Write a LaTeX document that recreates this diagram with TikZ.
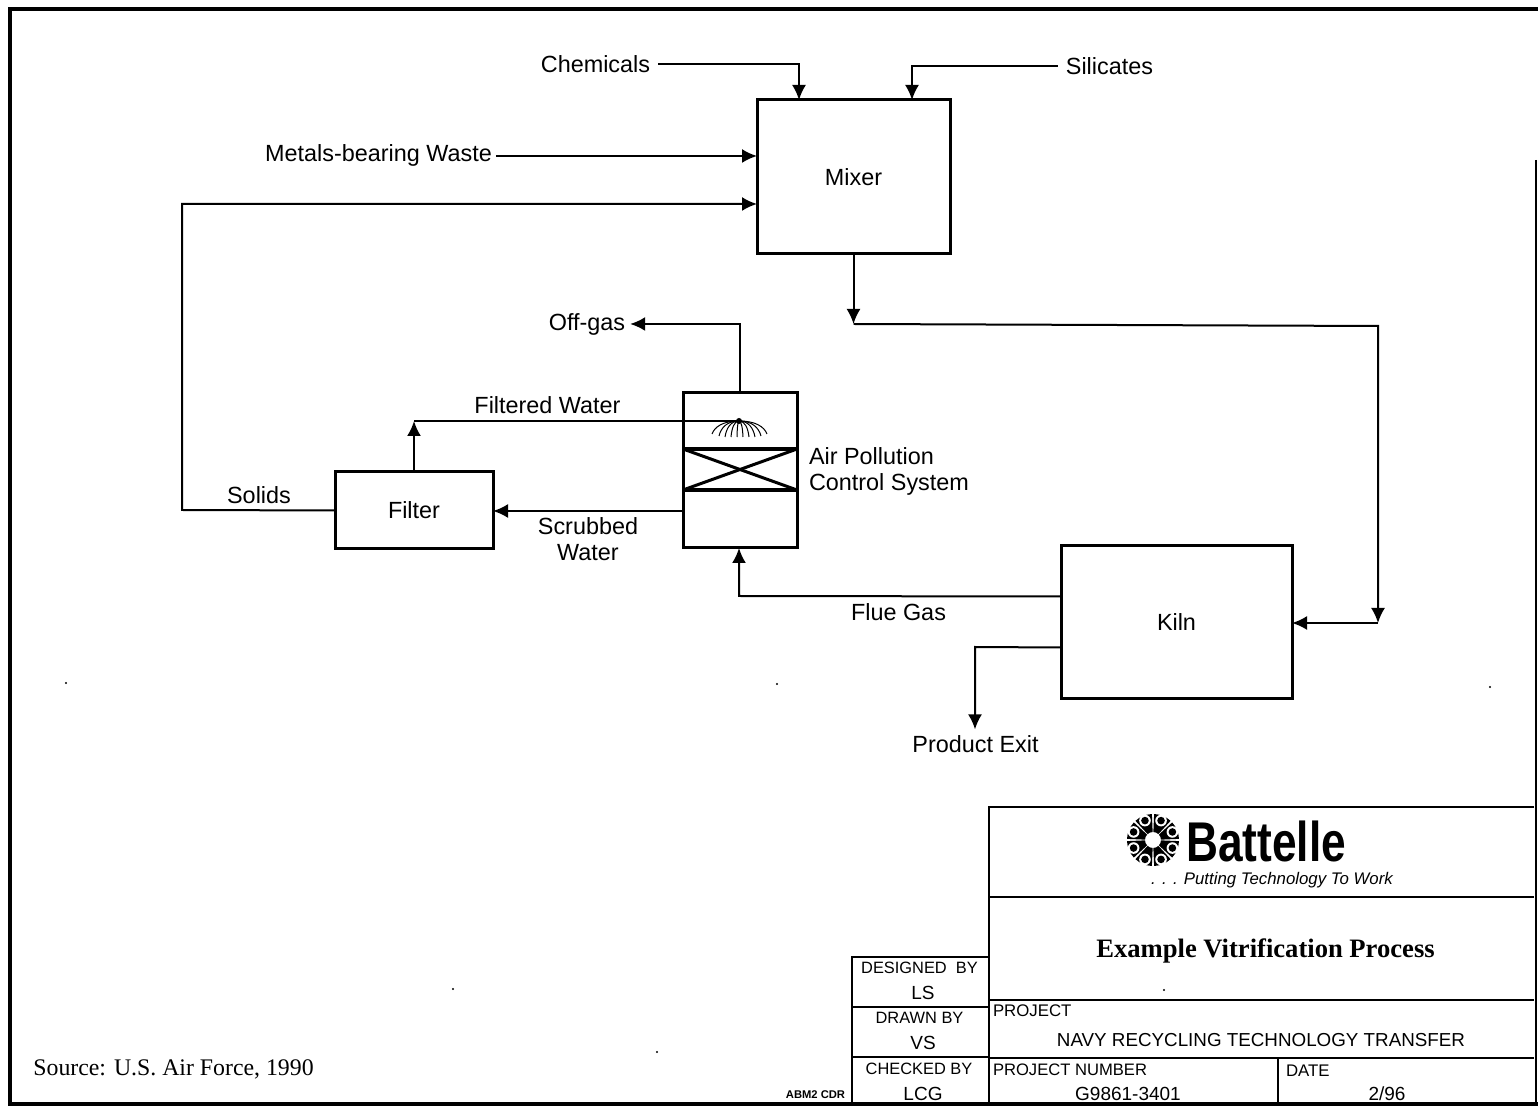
\documentclass[tikz,border=0pt]{standalone}
\usepackage{fontspec}
\setmainfont{Liberation Sans}
\newfontfamily\timesf{Liberation Serif}
\usetikzlibrary{arrows.meta,calc}
\tikzset{
  x=0.5pt,y=-0.5pt,
  conn/.style={line width=1pt},
  arr/.style={conn,-{Latex[length=7.5pt,width=7pt]}},
  pbox/.style={draw,line width=1.5pt,inner sep=0,outer sep=0,font=\fontsize{11.7}{14}\selectfont},
  lab/.style={inner sep=0,outer sep=0,font=\fontsize{11.7}{13.2}\selectfont},
  rule/.style={line width=1.2pt},
  frameline/.style={line width=1.8pt},
  cell/.style={inner sep=0,outer sep=0,font=\fontsize{8.4}{10}\selectfont},
  small/.style={inner sep=0,outer sep=0,font=\fontsize{8.2}{10}\selectfont},
  value/.style={inner sep=0,outer sep=0,font=\fontsize{9.5}{11}\selectfont},
  speck/.style={fill,circle,inner sep=0,minimum size=1.2pt},
}
\begin{document}
\begin{tikzpicture}
\useasboundingbox (0,0) rectangle (1538,1106);
% frame
\draw[frameline] (1538,9) -- (10,9) -- (10,1104) -- (1538,1104);
\draw[line width=.8pt] (1536,160) -- (1536,807);
% process boxes
\node[pbox,minimum width=96.5pt,minimum height=77pt] (mixer) at (853.5,177) {Mixer};
\node[pbox,minimum width=115.5pt,minimum height=76.5pt] (kiln) at (1176.5,622) {Kiln};
\node[pbox,minimum width=79pt,minimum height=38.5pt] (filter) at (414,510.5) {Filter};
\node[draw,line width=1.5pt,inner sep=0,outer sep=0,minimum width=57pt,minimum height=77.5pt] (apc) at (740,470.5) {};
% scrubber interior
\draw[line width=2pt] (apc.west |- 0,449) -- (apc.east |- 0,449);
\draw[line width=2pt] (apc.west |- 0,490) -- (apc.east |- 0,490);
\draw[line width=1.5pt] (apc.west |- 0,449) -- (apc.east |- 0,490);
\draw[line width=1.5pt] (apc.west |- 0,490) -- (apc.east |- 0,449);
\coordinate (spray) at (739,421);
\fill (spray) circle (1.5pt);
\foreach \d/\h in {-27/13,-20/15,-14/16,-8/16,-2/16,4/16,10/16,16/16,22/15,28/13}
  \draw[line width=.5pt] (spray) .. controls ($(spray)+(\d*0.6,0)$) and ($(spray)+(\d*0.9,\h*0.45)$) .. ($(spray)+(\d,\h)$);
% labels
\node[lab] (chem) at (595.5,64) {Chemicals};
\node[lab] (sil) at (1109.5,66) {Silicates};
\node[lab] (metals) at (378.5,155) {Metals-bearing Waste};
\node[lab] (offgas) at (587,324) {Off-gas};
\node[lab] at (547.5,405) {Filtered Water};
\node[lab,anchor=west,align=left] at (809,471.5) {Air Pollution\\Control System};
\node[lab] at (259,495) {Solids};
\node[lab,align=center] at (588,539) {Scrubbed\\Water};
\node[lab] at (898.5,612) {Flue Gas};
\node[lab] (product) at (975.5,744) {Product Exit};
% connectors
\coordinate (mixTopA) at ($(mixer.north west)+(42,0)$);
\coordinate (mixTopB) at ($(mixer.north west)+(155,0)$);
\coordinate (mixLeftA) at ($(mixer.north west)+(0,56)$);
\coordinate (mixLeftB) at ($(mixer.north west)+(0,104)$);
\coordinate (kilnLeftA) at ($(kiln.north west)+(0,51)$);
\coordinate (kilnLeftB) at ($(kiln.north west)+(0,102)$);
\coordinate (bendMix) at (853.5,324);
\coordinate (bendKiln) at (1378,326);
\coordinate (kilnIn) at (1378,623);
\coordinate (solidsCorner) at (182,510);
\coordinate (solidsTop) at (182,204);
\coordinate (filterUp) at (414,421);
\coordinate (offCorner) at (740,324);
\coordinate (flueCorner) at (739,596);
\coordinate (prodCorner) at (975,647);
\draw[arr] ([xshift=4pt]chem.east) -| (mixTopA);
\draw[arr] ([xshift=-4pt]sil.west) -| (mixTopB);
\draw[arr] ([xshift=2pt,yshift=-.5pt]metals.east) -- (mixLeftA);
\draw[arr] (filter.west) -- (solidsCorner) -- (solidsTop) -- (mixLeftB);
\draw[arr] (mixer.south) -- (bendMix);
\draw[arr] (bendMix) -- (bendKiln) -- (kilnIn);
\draw[arr] (kilnIn) -- (kiln.east |- kilnIn);
\draw[arr] (kilnLeftA) -- (flueCorner) -- (apc.south -| flueCorner);
\draw[arr] (kilnLeftB) -- (prodCorner) -- ([yshift=3pt]product.north -| prodCorner);
\draw[arr] (apc.north) -- (offCorner) -- ([xshift=2.5pt]offgas.east |- offCorner);
\draw[arr] (apc.west |- 0,511) -- (filter.east |- 0,511);
\draw[conn] (spray) -- (filterUp);
\draw[arr] (filter.north) -- (filterUp);
% title block
\draw[rule,line width=1.4pt] (1534,807) -- (989,807) -- (989,1104);
\draw[rule] (989,897) -- (1534,897);
\draw[rule] (989,1000) -- (1534,1000);
\draw[rule] (989,1058) -- (1534,1058);
\draw[line width=1pt] (1536,807) -- (1536,1104);
\draw[rule] (1278,1058) -- (1278,1104);
\draw[rule] (989,957) -- (852,957) -- (852,1104);
\draw[rule] (852,1007) -- (989,1007);
\draw[rule] (852,1057) -- (989,1057);
% logo
\begin{scope}[shift={(1153,840)}]
\foreach \a in {22.5,67.5,...,337.5}{
  \fill ({\a-20}:8) -- ({\a-20}:26) arc[start angle=\a-20,end angle=\a+20,radius=26] -- ({\a+20}:8) arc[start angle=\a+20,end angle=\a-20,radius=8] -- cycle;
  \fill[white] (\a:21) circle (2.9pt);
  \fill (\a:21) circle (1.9pt);
}
\end{scope}
\node[inner sep=0,xscale=0.79,transform shape,font=\fontsize{28}{29}\selectfont\bfseries] (brand) at (1266,841) {Battelle};
\node[inner sep=0,font=\fontsize{8.4}{10}\selectfont\itshape] (motto) at (1272,880) {. . . Putting Technology To Work};
\node[inner sep=0,font=\timesf\fontsize{13.3}{15}\selectfont\bfseries] (title) at (1265.5,951) {Example Vitrification Process};
\node[cell,anchor=west] (project) at (993,1011) {PROJECT};
\node[value,font=\fontsize{9.4}{11}\selectfont] (navy) at (1261,1040) {NAVY RECYCLING TECHNOLOGY TRANSFER};
\node[cell,anchor=west,font=\fontsize{8.3}{10}\selectfont] (pnum) at (993,1070) {PROJECT NUMBER};
\node[value] (g) at (1128,1094) {G9861-3401};
\node[cell,anchor=west] (date) at (1286,1071) {DATE};
\node[value] (d296) at (1387,1094) {2/96};
\node[small] (des) at (919.5,968) {DESIGNED\ \ BY};
\node[value] (ls) at (923,993) {LS};
\node[small] (drw) at (919.5,1018) {DRAWN BY};
\node[value] (vs) at (923,1043) {VS};
\node[small] (chk) at (919,1069) {CHECKED BY};
\node[value] (lcg) at (923,1094) {LCG};
\node[inner sep=0,font=\fontsize{5.6}{6}\selectfont\bfseries] (abm) at (815.5,1095) {ABM2 CDR};
\node[inner sep=0,anchor=west,font=\timesf\fontsize{11.9}{14}\selectfont] (source) at (33,1069) {Source: U.S. Air Force, 1990};
% specks
\foreach \p in {(66,683),(777,684),(1490,687),(453,989),(657,1052),(1164,990)}
  \node[speck] at \p {};
\end{tikzpicture}
\end{document}
